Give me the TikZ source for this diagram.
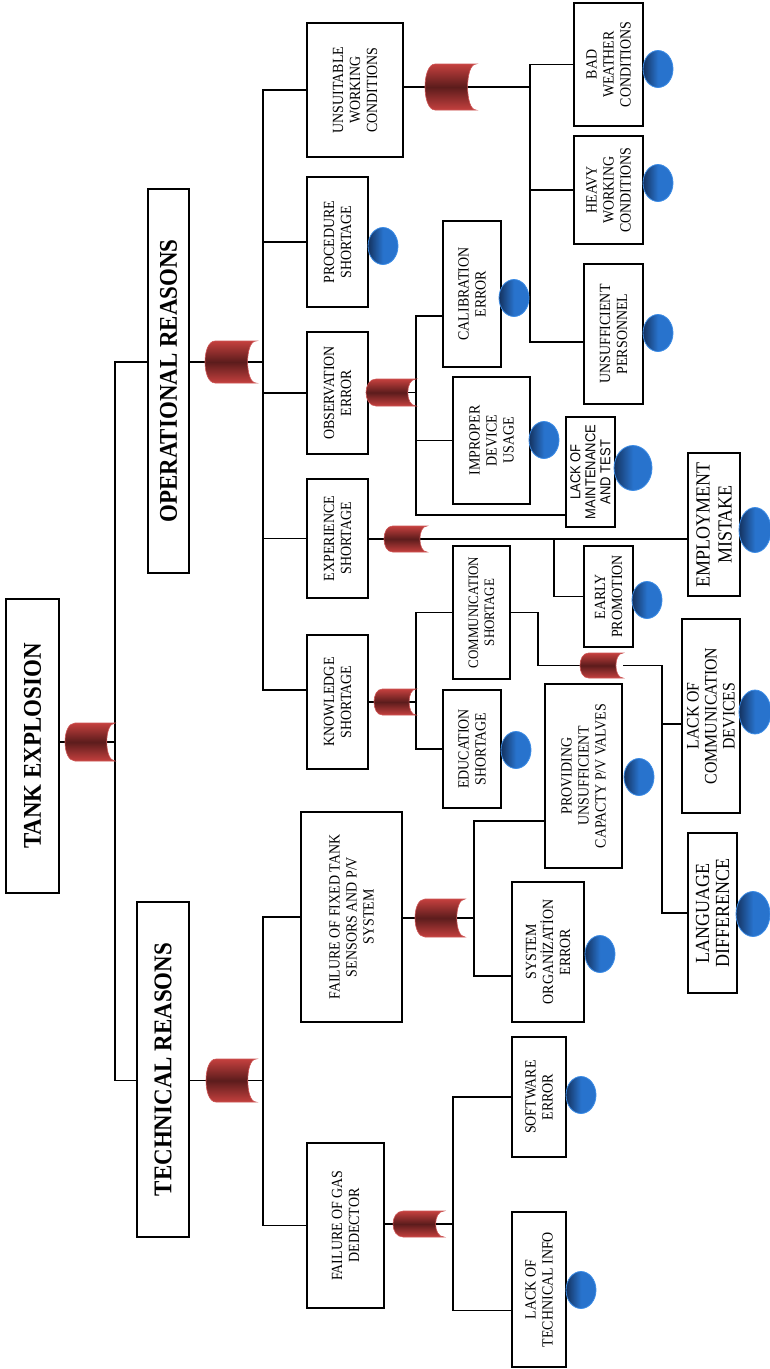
\documentclass[tikz,border=0pt]{standalone}
\usepackage{fontspec}
\setmainfont{Liberation Serif}[FakeStretch=0.9]
\newfontfamily\arialfont{Liberation Sans}[FakeStretch=0.9]
\usetikzlibrary{calc,shapes.geometric}
\definecolor{gred}{RGB}{196,64,62}
\definecolor{gdark}{RGB}{92,28,28}
\definecolor{gline}{RGB}{205,85,85}
\definecolor{evdark}{RGB}{20,50,95}
\definecolor{evblue}{RGB}{40,115,205}
\definecolor{evline}{RGB}{60,140,230}
\tikzset{
  fault/.style={draw, line width=1.6pt, rotate=90, align=center, inner sep=2pt,
                font=\fontsize{15.5}{17}\selectfont},
  wh/.style 2 args={minimum height=#1pt, minimum width=#2pt},
  headline/.style={font=\fontsize{25.5}{28}\selectfont\bfseries},
  bigtext/.style={font=\fontsize{20}{22}\selectfont},
  basic/.style={ellipse, draw=evline, line width=.8pt, left color=evdark,
                right color=evblue, middle color=evblue, inner sep=0,
                minimum width=30pt, minimum height=37pt},
  gatebox/.style={inner sep=0, outer sep=0},
  link/.style={line width=1.4pt},
  gateshade/.style={draw=gline, line width=.6pt, top color=gred,
                    bottom color=gred, middle color=gdark}
}
\begin{document}
\begin{tikzpicture}[x=1pt,y=-1pt]
\useasboundingbox (0,0) rectangle (770,1369);
\fill[white] (0,0) rectangle (770,1369);

% main events
\node[fault,headline,wh={53}{294}] (top) at (32.5,746) {TANK EXPLOSION};
\node[fault,headline,wh={41}{384}] (op) at (168.5,381) {OPERATIONAL REASONS};
\node[fault,headline,wh={52}{335}] (tech) at (163,1069.5) {TECHNICAL REASONS};

% operational branch
\node[fault,wh={96}{134}] (ue) at (355,90) {UNSUITABLE\\WORKING\\CONDITIONS};
\node[fault,wh={61}{130}] (ps) at (337.5,242) {PROCEDURE\\SHORTAGE};
\node[fault,wh={61}{122}] (oe) at (337.5,393) {OBSERVATION\\ERROR};
\node[fault,wh={61}{119}] (es) at (337.5,538.5) {EXPERIENCE\\SHORTAGE};
\node[fault,wh={61}{134}] (ks) at (337.5,702) {KNOWLEDGE\\SHORTAGE};

\node[fault,wh={69}{123}] (bw) at (608.5,64.5) {BAD\\WEATHER\\CONDITIONS};
\node[fault,wh={69}{108}] (hw) at (608.5,190) {HEAVY\\WORKING\\CONDITIONS};
\node[fault,wh={59}{140}] (up) at (613.5,334) {UNSUFFICIENT\\PERSONNEL};

\node[fault,wh={58}{146}] (ce) at (472,294) {CALIBRATION\\ERROR};
\node[fault,wh={77}{127}] (im) at (491.5,440.5) {IMPROPER\\DEVICE\\USAGE};
\node[fault,wh={49}{110},font=\arialfont\fontsize{14.4}{15}\selectfont] (lm) at (590.5,472)
     {LACK OF\\MAINTENANCE\\AND TEST};

\node[fault,bigtext,wh={52}{143}] (em) at (714,524.5) {EMPLOYMENT\\MISTAKE};
\node[fault,wh={49}{101}] (ep) at (608.5,596.5) {EARLY\\PROMOTION};

\node[fault,wh={57}{133},font=\fontsize{14.4}{16}\selectfont] (cs) at (481.5,612.5)
     {COMMUNICATION\\SHORTAGE};
\node[fault,wh={58}{118}] (eds) at (472,749) {EDUCATION\\SHORTAGE};
\node[fault,wh={58}{194},font=\fontsize{17.6}{18}\selectfont] (lcd) at (711,716)
     {LACK OF\\COMMUNICATION\\DEVICES};
\node[fault,bigtext,wh={49}{160},font=\fontsize{20}{20}\selectfont] (ld) at (712.5,913)
     {LANGUAGE\\DIFFERENCE};

% technical branch
\node[fault,wh={101}{210}] (ff) at (351.5,917) {FAILURE OF FIXED TANK\\SENSORS AND P/V\\SYSTEM};
\node[fault,wh={77}{165}] (fg) at (345.5,1225.5) {FAILURE OF GAS\\DEDECTOR};
\node[fault,wh={77}{184}] (pv) at (583.5,776) {PROVIDING\\UNSUFFICIENT\\CAPACTY P/V VALVES};
\node[fault,wh={72}{140}] (so) at (548,952) {SYSTEM\\ORGANİZATİON\\ERROR};
\node[fault,wh={54}{120}] (sw) at (539,1097) {SOFTWARE\\ERROR};
\node[fault,wh={54}{155}] (lt) at (539,1289.5) {LACK OF\\TECHNICAL INFO};

% gates
\node[gatebox,minimum width=50pt,minimum height=38pt] (g0) at (90,742) {};
\node[gatebox,minimum width=51pt,minimum height=42pt] (g1) at (230.5,362) {};
\node[gatebox,minimum width=50pt,minimum height=43pt] (g2) at (231,1080.5) {};
\node[gatebox,minimum width=51pt,minimum height=46pt] (g3) at (450.5,87) {};
\node[gatebox,minimum width=50pt,minimum height=27pt] (g4) at (391,392.5) {};
\node[gatebox,minimum width=43pt,minimum height=26pt] (g5) at (405.5,539) {};
\node[gatebox,minimum width=42pt,minimum height=26pt] (g6) at (395,702) {};
\node[gatebox,minimum width=43pt,minimum height=25pt] (g7) at (601.5,665.5) {};
\node[gatebox,minimum width=50pt,minimum height=38pt] (g8) at (440,918) {};
\node[gatebox,minimum width=51pt,minimum height=26pt] (g9) at (418.5,1224) {};

\coordinate (b1) at (263,362);
\coordinate (b2) at (263,1080.5);
\coordinate (b3) at (530,87);
\coordinate (b5) at (554,539);
\coordinate (b8) at (474,918);
\coordinate (b9) at (453,1224);

% connectors
\draw[link] (top.south |- g0) -- (g0.east);
\draw[link] (op.north |- g1) -| (g0.east) |- (tech.north |- g2);

\draw[link] (op.south |- g1) -- (g1.east) -- (b1);
\draw[link] (ue.north) -| (b1) |- ([yshift=12pt]ks.north);
\draw[link] (b1 |- ps.north) -- (ps.north)
            (b1 |- oe.north) -- (oe.north)
            (b1 |- es.north) -- (es.north);

\draw[link] (ue.south |- g3) -- (g3.east) -- (b3);
\draw[link] (bw.north) -| (b3) |- ([yshift=-8pt]up.north);
\draw[link] (b3 |- hw.north) -- (hw.north);

\draw[link] (oe.south |- g4) -- (g4.east);
\draw[link] ([yshift=-22pt]ce.north) -| (g4.east) |- ([yshift=-43pt]lm.north);
\draw[link] (g4.east |- im.north) -- (im.north);

\draw[link] (es.south |- g5) -- (g5.east) -- (em.north |- g5.east);
\draw[link] (b5) |- (ep.north);

\draw[link] (ks.south) -- (g6.east);
\draw[link] (cs.north) -| (g6.east) |- (eds.north);
\draw[link] (cs.south) -- ++(27,0) |- (g7.west);
\draw[link] (g7.east) -- ++(39,0) |- (ld.north);
\draw[link] ([yshift=-8pt]lcd.north) -- ++(-20,0);

\draw[link] (tech.south |- g2) -- (g2.east) -- (b2);
\draw[link] (ff.north) -| (b2) |- (fg.north);

\draw[link] (ff.south |- g8) -- (g8.east) -- (b8);
\draw[link] ([yshift=-45pt]pv.north) -| (b8) |- ([yshift=-24pt]so.north);

\draw[link] (fg.south |- g9) -- (g9.east) -- (b9);
\draw[link] (sw.north) -| (b9) |- ([yshift=-21pt]lt.north);

% gate shapes
\foreach \i in {0,...,9}
  \shadedraw[gateshade]
    ($(g\i.north west)!.2!(g\i.north east)$) -- (g\i.north east)
    .. controls ($(g\i.north east)!.22!(g\i.north west)$) and ($(g\i.south east)!.22!(g\i.south west)$) .. (g\i.south east)
    -- ($(g\i.south west)!.2!(g\i.south east)$)
    .. controls ($(g\i.south west)!-.067!(g\i.south east)$) and ($(g\i.north west)!-.067!(g\i.north east)$) .. cycle;

% basic events
\node[basic] (psE) at (383,246) {};
\node[basic] (ceE) at (514,298) {};
\node[basic] (imE) at (544,440) {};
\node[basic,minimum width=38pt,minimum height=45pt] (lmE) at (633,468) {};
\node[basic] (bwE) at (658,69) {};
\node[basic] (hwE) at (658,183) {};
\node[basic] (upE) at (658,333) {};
\node[basic,minimum width=32pt,minimum height=45pt] (emE) at (755,530) {};
\node[basic] (epE) at (647,600) {};
\node[basic] (edsE) at (516,750) {};
\node[basic,minimum width=32pt,minimum height=44pt] (lcdE) at (755,712) {};
\node[basic,minimum width=34pt,minimum height=45pt] (ldE) at (753,914) {};
\node[basic] (pvE) at (639,777) {};
\node[basic] (soE) at (600,954) {};
\node[basic] (swE) at (581,1095) {};
\node[basic] (ltE) at (581,1290) {};
\end{tikzpicture}
\end{document}
